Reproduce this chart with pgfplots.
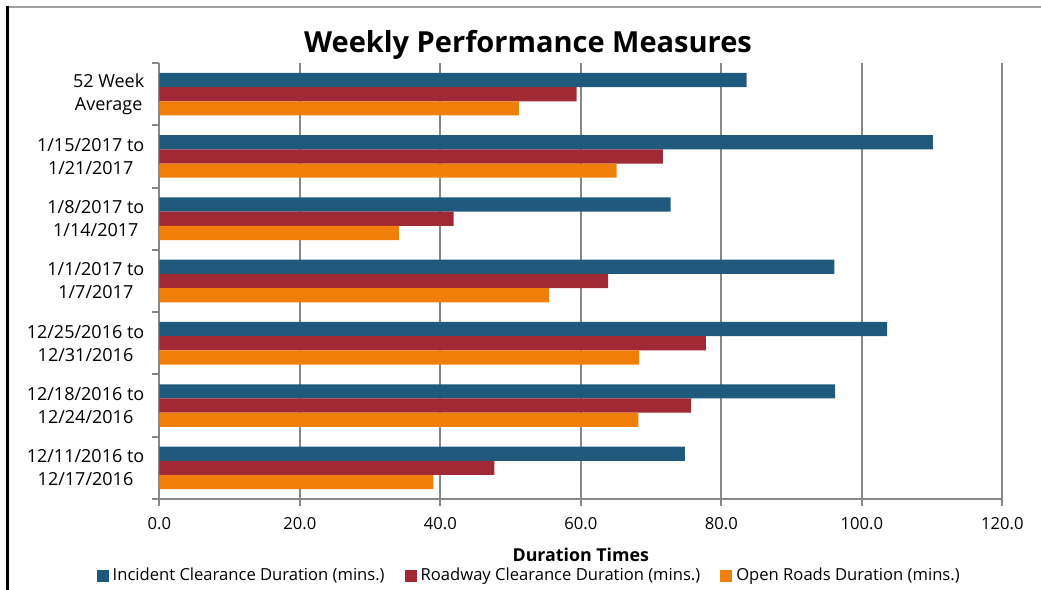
\documentclass[border=0pt]{standalone}
\usepackage{pgfplots}
\pgfplotsset{compat=1.18}
\usepackage{fontspec}
\setmainfont{Open Sans}
\definecolor{incblue}{HTML}{1F5A7D}
\definecolor{rwred}{HTML}{A02935}
\definecolor{oporange}{HTML}{F07F09}
\definecolor{gridgray}{HTML}{878787}
\begin{document}
\begin{tikzpicture}[x=0.5pt,y=0.5pt]
\path[use as bounding box] (0,0) rectangle (1041,590);
% frame of the chart area
\draw[gridgray!80, line width=1pt] (7,583) -- (1041,583);
\draw[black, line width=1.5pt] (7,0) -- (7,583.5);
\node[font=\bfseries\fontsize{14.5}{17}\selectfont] at (528,545) {Weekly Performance Measures};
\begin{axis}[
  at={(79.65pt,45.5pt)}, anchor=south west,
  scale only axis, width=421.5pt, height=218pt,
  xbar, bar width=7.1pt,
  xmin=0, xmax=120, ymin=-0.5, ymax=6.5,
  xtick={0,20,...,120},
  xticklabels={0.0,20.0,40.0,60.0,80.0,100.0,120.0},
  ytick={0,...,6},
  yticklabels={{12/11/2016 to\\12/17/2016},{12/18/2016 to\\12/24/2016},{12/25/2016 to\\12/31/2016},{1/1/2017 to\\1/7/2017},{1/8/2017 to\\1/14/2017},{1/15/2017 to\\1/21/2017},{52 Week\\Average}},
  minor xtick={0,20,...,120},
  minor ytick={-0.5,0.5,...,6.5},
  major tick length=0pt, minor tick length=3.5pt, tick align=outside,
  every tick/.style={gridgray, line width=1pt},
  axis x line*=bottom, axis y line*=left,
  axis line style={gridgray, line width=1pt, -},
  xmajorgrids, major grid style={gridgray, line width=1pt},
  ticklabel style={text=black},
  yticklabel style={align=center, xshift=-4pt, font=\fontsize{9}{11.5}\selectfont},
  xticklabel style={yshift=-5.5pt, font=\fontsize{8.3}{10}\selectfont},
  xlabel={Duration Times},
  xlabel style={font=\bfseries\fontsize{8.9}{10}\selectfont, yshift=-2.5pt},
  legend columns=3,
  legend style={at={(0.44,-0.176)}, anchor=center, draw=none, fill=none,
    font=\fontsize{8.3}{10}\selectfont,
    /tikz/every even column/.append style={column sep=8pt}},
  legend image code/.code={\fill[#1] (0pt,-3pt) rectangle (6pt,3pt);},
]
\addplot[fill=incblue, draw=none, bar shift=7.1pt] coordinates {
  (74.8,0) (96.2,1) (103.6,2) (96.1,3) (72.8,4) (110.1,5) (83.6,6)};
\addlegendentry{Incident Clearance Duration (mins.)}
\addplot[fill=rwred, draw=none, bar shift=0pt] coordinates {
  (47.7,0) (75.7,1) (77.8,2) (63.9,3) (41.9,4) (71.7,5) (59.4,6)};
\addlegendentry{Roadway Clearance Duration (mins.)}
\addplot[fill=oporange, draw=none, bar shift=-7.1pt] coordinates {
  (39.0,0) (68.2,1) (68.3,2) (55.5,3) (34.1,4) (65.1,5) (51.2,6)};
\addlegendentry{Open Roads Duration (mins.)}
\end{axis}
\end{tikzpicture}
\end{document}
